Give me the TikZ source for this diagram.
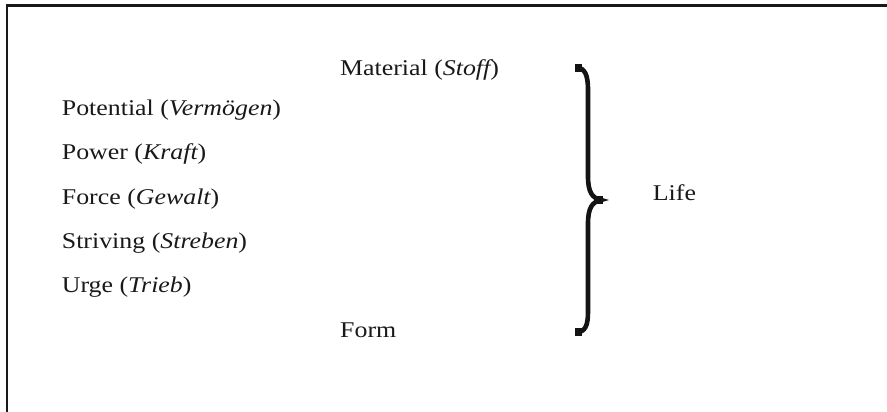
\documentclass[tikz,border=0pt]{standalone}
\usepackage{fontspec}
\setmainfont{Liberation Serif}[FakeStretch=1.15]
\newcommand{\gerword}[1]{{\itshape #1}}
\begin{document}
\begin{tikzpicture}[x=1pt,y=-1pt,
  term/.style={anchor=base west,inner sep=0pt,text=black!90,
    font=\fontsize{22.5}{27}\selectfont},
  frameline/.style={line width=2.5pt,black!90},
  bracestroke/.style={line width=4.6pt,black!92,line cap=butt}]
\useasboundingbox (0,0) rectangle (887,412);
% partial frame: top and left edges
\draw[frameline] (887,5.3) -- (7.2,5.3) -- (7.2,412);
% labels
\node[term] (material) at (340,75.7) {Material (\gerword{Stoff})};
\node[term] (potential) at (61.7,115) {Potential (\gerword{Vermögen})};
\node[term] (power) at (61.7,159.5) {Power (\gerword{Kraft})};
\node[term] (force) at (61.7,204) {Force (\gerword{Gewalt})};
\node[term] (striving) at (61.7,248.3) {Striving (\gerword{Streben})};
\node[term] (urge) at (61.7,292.6) {Urge (\gerword{Trieb})};
\node[term] (form) at (340,337.3) {Form};
\node[term] (life) at (652.7,200.7) {Life};
% the curly brace
\draw[bracestroke] (577,67.5) .. controls (585,68.5) and (588,75) .. (588,90)
  -- (588,176) .. controls (588,192) and (592,198) .. (601,200)
  .. controls (592,202) and (588,208) .. (588,224)
  -- (588,312) .. controls (588,326) and (585,331.5) .. (577,332.5);
\fill[black!92] (575,64.5) rectangle (581.5,72.5);
\fill[black!92] (575,327.5) rectangle (581.5,335.5);
\fill[black!92] (596.5,196) rectangle (603,204);
\end{tikzpicture}
\end{document}
